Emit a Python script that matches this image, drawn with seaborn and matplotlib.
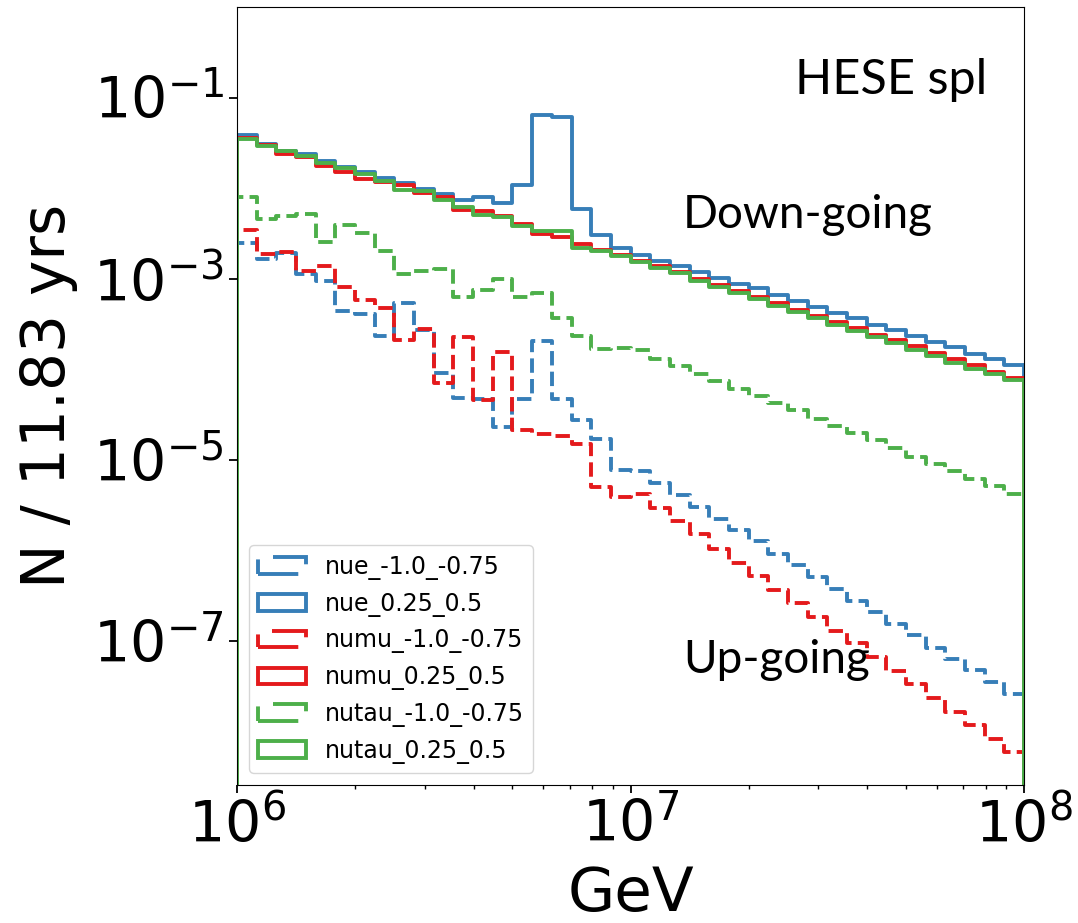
import numpy as np
import pandas as pd
import matplotlib
matplotlib.use("Agg")
import matplotlib.pyplot as plt
from matplotlib.ticker import NullLocator, FixedLocator
import seaborn as sns

# ---- data -------------------------------------------------------------
# bin edges in log10(E / GeV): 40 log-spaced bins between 1e6 and 1e8
log_edges = list(np.linspace(6.0, 8.0, 41))

# up-going (cos zenith -1.0 .. -0.75)
nue_up = [2.50e-3, 1.66e-3, 1.95e-3, 1.12e-3, 9.51e-4, 4.44e-4, 4.11e-4, 2.33e-4,
          5.35e-4, 2.76e-4, 9.20e-5, 4.88e-5, 4.67e-5, 2.32e-5, 4.67e-5, 2.05e-4,
          4.67e-5, 2.77e-5, 1.70e-5, 7.79e-6, 7.56e-6, 5.56e-6, 4.08e-6, 3.06e-6,
          2.26e-6, 1.68e-6, 1.27e-6, 9.23e-7, 6.98e-7, 5.17e-7, 3.82e-7, 2.78e-7,
          2.13e-7, 1.57e-7, 1.19e-7, 8.52e-8, 6.38e-8, 4.83e-8, 3.59e-8, 2.64e-8]
numu_up = [3.50e-3, 1.86e-3, 1.98e-3, 1.21e-3, 1.38e-3, 8.09e-4, 5.92e-4, 4.75e-4,
           2.14e-4, 2.83e-4, 7.14e-5, 2.30e-4, 4.61e-5, 1.58e-4, 2.16e-5, 1.92e-5,
           1.85e-5, 1.52e-5, 5.06e-6, 3.93e-6, 4.24e-6, 2.95e-6, 2.12e-6, 1.52e-6,
           1.05e-6, 7.38e-7, 5.25e-7, 3.68e-7, 2.65e-7, 1.86e-7, 1.31e-7, 9.51e-8,
           6.75e-8, 4.71e-8, 3.38e-8, 2.38e-8, 1.66e-8, 1.20e-8, 8.45e-9, 5.97e-9]
nutau_up = [8.04e-3, 4.60e-3, 4.95e-3, 5.26e-3, 2.54e-3, 3.89e-3, 3.22e-3, 2.02e-3,
            1.13e-3, 1.23e-3, 1.29e-3, 6.38e-4, 7.62e-4, 9.91e-4, 6.31e-4, 6.95e-4,
            3.72e-4, 2.33e-4, 1.68e-4, 1.73e-4, 1.66e-4, 1.31e-4, 1.09e-4, 9.03e-5,
            7.43e-5, 6.12e-5, 5.08e-5, 4.30e-5, 3.56e-5, 2.86e-5, 2.37e-5, 2.00e-5,
            1.65e-5, 1.35e-5, 1.09e-5, 8.95e-6, 7.55e-6, 6.23e-6, 5.16e-6, 4.19e-6]

# down-going (cos zenith 0.25 .. 0.5)
nue_down = [3.84e-2, 3.11e-2, 2.56e-2, 2.39e-2, 2.02e-2, 1.73e-2, 1.52e-2, 1.30e-2,
            1.15e-2, 9.91e-3, 8.67e-3, 7.50e-3, 8.04e-3, 6.83e-3, 1.10e-2, 6.41e-2,
            6.12e-2, 5.92e-3, 3.08e-3, 2.20e-3, 1.85e-3, 1.59e-3, 1.38e-3, 1.18e-3,
            1.03e-3, 8.81e-4, 7.88e-4, 6.72e-4, 5.66e-4, 4.92e-4, 4.22e-4, 3.66e-4,
            3.13e-4, 2.72e-4, 2.33e-4, 2.00e-4, 1.76e-4, 1.50e-4, 1.29e-4, 1.11e-4]
numu_down = [3.62e-2, 3.03e-2, 2.39e-2, 2.22e-2, 1.75e-2, 1.50e-2, 1.27e-2, 1.16e-2,
             1.08e-2, 8.89e-3, 8.04e-3, 5.82e-3, 5.67e-3, 5.00e-3, 4.01e-3, 3.14e-3,
             2.88e-3, 2.45e-3, 2.07e-3, 1.85e-3, 1.59e-3, 1.38e-3, 1.18e-3, 1.00e-3,
             8.66e-4, 7.31e-4, 6.31e-4, 5.35e-4, 4.59e-4, 3.91e-4, 3.33e-4, 2.88e-4,
             2.43e-4, 2.10e-4, 1.81e-4, 1.53e-4, 1.31e-4, 1.11e-4, 9.44e-5, 8.11e-5]
nutau_down = [3.53e-2, 2.90e-2, 2.56e-2, 2.29e-2, 1.92e-2, 1.69e-2, 1.42e-2, 1.19e-2,
              9.50e-3, 9.26e-3, 7.50e-3, 6.28e-3, 5.13e-3, 4.87e-3, 3.81e-3, 3.35e-3,
              3.35e-3, 2.20e-3, 2.02e-3, 1.78e-3, 1.52e-3, 1.33e-3, 1.15e-3, 9.59e-4,
              8.23e-4, 7.07e-4, 6.00e-4, 5.08e-4, 4.33e-4, 3.68e-4, 3.11e-4, 2.64e-4,
              2.27e-4, 1.94e-4, 1.66e-4, 1.40e-4, 1.19e-4, 1.02e-4, 8.81e-5, 7.57e-5]

labels = ["nue_-1.0_-0.75", "nue_0.25_0.5",
          "numu_-1.0_-0.75", "numu_0.25_0.5",
          "nutau_-1.0_-0.75", "nutau_0.25_0.5"]
values = [nue_up, nue_down, numu_up, numu_down, nutau_up, nutau_down]

x_ticks = [1e6, 1e7, 1e8]
y_ticks = [1e-7, 1e-5, 1e-3, 1e-1]

# ---- style ------------------------------------------------------------
sns.set_style("ticks", rc={"axes.edgecolor": "black", "xtick.color": "black",
                           "ytick.color": "black", "axes.linewidth": 1.4,
                           "text.color": "black", "axes.labelcolor": "black"})
plt.rcParams["font.family"] = ["DejaVu Sans"]

pal = sns.color_palette("Set1")
colors = [pal[1], pal[1], pal[0], pal[0], pal[2], pal[2]]
styles = ["--", "-", "--", "-", "--", "-"]

fig, ax = plt.subplots(figsize=(10.78, 9.23), dpi=100)
fig.subplots_adjust(left=0.2199, right=0.9499, bottom=0.1495, top=0.9924)

# geometric bin centres
edges_arr = np.asarray(log_edges)
centers = np.sqrt(10.0 ** edges_arr[:-1] * 10.0 ** edges_arr[1:])

for lab, vals, col, ls in zip(labels, values, colors, styles):
    df = pd.DataFrame({"E": centers, "N": vals})
    sns.histplot(data=df, x="E", weights="N", bins=log_edges, log_scale=True,
                 element="step", fill=True, color=col, facecolor="none",
                 edgecolor=col, linewidth=2.8, linestyle=ls, label=lab, ax=ax)

ax.set_yscale("log")
ax.set_xlim(1e6, 1e8)
ax.set_ylim(2.6e-9, 1.0)
ax.yaxis.set_major_locator(FixedLocator(y_ticks))
ax.yaxis.set_minor_locator(NullLocator())
ax.xaxis.set_major_locator(FixedLocator(x_ticks))
ax.tick_params(which="major", labelsize=41, length=6, width=1.3,
               labelcolor="black")
ax.tick_params(which="minor", length=2.8, width=1.0)

ax.set_xlabel("GeV", fontsize=44, labelpad=7, color="black")
ax.set_ylabel("N / 11.83 yrs", fontsize=43, labelpad=11, color="black")

for s in ax.spines.values():
    s.set_visible(True)

txt_font = ["Lato", "DejaVu Sans"]
ax.text(0.709, 0.906, "HESE spl", transform=ax.transAxes, fontsize=35,
        family=txt_font, va="center", ha="left", color="black")
ax.text(0.567, 0.733, "Down-going", transform=ax.transAxes, fontsize=33,
        family=txt_font, va="center", ha="left", color="black")
ax.text(0.567, 0.161, "Up-going", transform=ax.transAxes, fontsize=33,
        family=txt_font, va="center", ha="left", color="black")

leg = ax.legend(loc="lower left", fontsize=17)
for t in leg.get_texts():
    t.set_color("black")

fig.savefig("out.png", dpi=100)
